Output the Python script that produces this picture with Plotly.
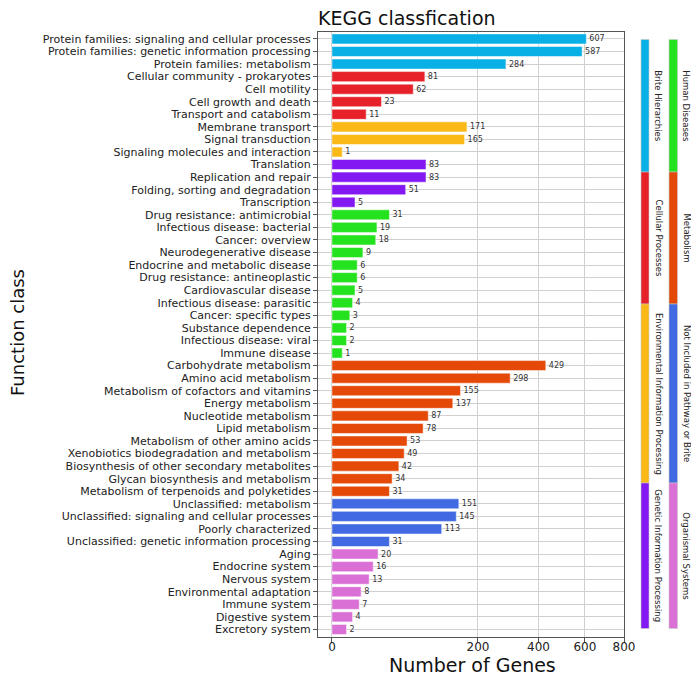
import numpy as np
import plotly.graph_objects as go

# KEGG level-2 functions, gene counts, and their level-1 class
functions = [
    "Protein families: signaling and cellular processes",
    "Protein families: genetic information processing",
    "Protein families: metabolism",
    "Cellular community - prokaryotes",
    "Cell motility",
    "Cell growth and death",
    "Transport and catabolism",
    "Membrane transport",
    "Signal transduction",
    "Signaling molecules and interaction",
    "Translation",
    "Replication and repair",
    "Folding, sorting and degradation",
    "Transcription",
    "Drug resistance: antimicrobial",
    "Infectious disease: bacterial",
    "Cancer: overview",
    "Neurodegenerative disease",
    "Endocrine and metabolic disease",
    "Drug resistance: antineoplastic",
    "Cardiovascular disease",
    "Infectious disease: parasitic",
    "Cancer: specific types",
    "Substance dependence",
    "Infectious disease: viral",
    "Immune disease",
    "Carbohydrate metabolism",
    "Amino acid metabolism",
    "Metabolism of cofactors and vitamins",
    "Energy metabolism",
    "Nucleotide metabolism",
    "Lipid metabolism",
    "Metabolism of other amino acids",
    "Xenobiotics biodegradation and metabolism",
    "Biosynthesis of other secondary metabolites",
    "Glycan biosynthesis and metabolism",
    "Metabolism of terpenoids and polyketides",
    "Unclassified: metabolism",
    "Unclassified: signaling and cellular processes",
    "Poorly characterized",
    "Unclassified: genetic information processing",
    "Aging",
    "Endocrine system",
    "Nervous system",
    "Environmental adaptation",
    "Immune system",
    "Digestive system",
    "Excretory system",
]

gene_counts = [
    607, 587, 284,
    81, 62, 23, 11,
    171, 165, 1,
    83, 83, 51, 5,
    31, 19, 18, 9, 6, 6, 5, 4, 3, 2, 2, 1,
    429, 298, 155, 137, 87, 78, 53, 49, 42, 34, 31,
    151, 145, 113, 31,
    20, 16, 13, 8, 7, 4, 2,
]

level1 = (
    ["Brite Hierarchies"] * 3
    + ["Cellular Processes"] * 4
    + ["Environmental Information Processing"] * 3
    + ["Genetic Information Processing"] * 4
    + ["Human Diseases"] * 12
    + ["Metabolism"] * 11
    + ["Not Included in Pathway or Brite"] * 4
    + ["Organismal Systems"] * 7
)

legend_col1 = ["Brite Hierarchies", "Cellular Processes",
               "Environmental Information Processing", "Genetic Information Processing"]
legend_col2 = ["Human Diseases", "Metabolism",
               "Not Included in Pathway or Brite", "Organismal Systems"]

x_ticks = [0, 200, 400, 600, 800]

colors = {
    "Brite Hierarchies": "#08b0e6",
    "Cellular Processes": "#e6212a",
    "Environmental Information Processing": "#fbb918",
    "Genetic Information Processing": "#8418f2",
    "Human Diseases": "#24e21e",
    "Metabolism": "#e44908",
    "Not Included in Pathway or Brite": "#4169e1",
    "Organismal Systems": "#da70d6",
}

FONT = "DejaVu Sans"
OFF = 8  # page body margin
W, H = 699 - OFF, 677 - OFF
# plot area in (screen) pixels
L, R, T, B = 318, 624, 32, 637


def px_x(p):
    return (p - L) / (R - L)


def px_y(p):
    return (B - p) / (B - T)


fig = go.Figure()
fig.add_trace(go.Bar(
    y=functions,
    x=np.sqrt(gene_counts),
    orientation="h",
    width=0.8,
    marker=dict(color=[colors[g] for g in level1], line=dict(color="white", width=0.5)),
    text=gene_counts,
    textposition="outside",
    textfont=dict(family=FONT, size=8, color="#333333"),
    constraintext="none",
    cliponaxis=False,
    customdata=gene_counts,
    hovertemplate="<b>%{y}</b><br>Genes: %{customdata}<extra></extra>",
    showlegend=False,
))

# legend strips on the right
strip_edges = [39.5, 172, 304, 483, 628.5]
for col, (x0, x1, xt) in zip([legend_col1, legend_col2], [(641, 649, 658.5), (669, 677.5, 686.5)]):
    for i, name in enumerate(col):
        fig.add_shape(type="rect", xref="paper", yref="paper",
                      x0=px_x(x0), x1=px_x(x1),
                      y0=px_y(strip_edges[i + 1]), y1=px_y(strip_edges[i]),
                      fillcolor=colors[name], line=dict(color="#c8c8c8", width=0.6))
        fig.add_annotation(xref="paper", yref="paper",
                           x=px_x(xt), y=px_y((strip_edges[i] + strip_edges[i + 1]) / 2),
                           xanchor="center", yanchor="middle",
                           text=name, textangle=90, showarrow=False,
                           font=dict(family=FONT, size=8.5, color="#222222"))

# axis titles
fig.add_annotation(xref="paper", yref="paper", x=px_x(472), y=px_y(664.5),
                   text="Number of Genes", showarrow=False,
                   xanchor="center", yanchor="middle",
                   font=dict(family=FONT, size=19, color="#111111"))
fig.add_annotation(xref="paper", yref="paper", x=px_x(17), y=px_y(333),
                   text="Function class", showarrow=False, textangle=-90,
                   xanchor="center", yanchor="middle",
                   font=dict(family=FONT, size=18, color="#111111"))

fig.update_layout(
    width=W, height=H,
    margin=dict(l=L - OFF, r=W - (R - OFF), t=T - OFF, b=H - (B - OFF), autoexpand=False),
    paper_bgcolor="white", plot_bgcolor="white",
    font=dict(family=FONT, color="#222222"),
    title=dict(text="KEGG classfication", x=px_x(L), xref="paper", xanchor="left",
               y=1 - (18 - OFF) / H, yanchor="middle",
               font=dict(family=FONT, size=19, color="#111111")),
    bargap=0.2,
)
fig.update_xaxes(
    automargin=False,
    range=[-1.35, np.sqrt(800)],
    tickvals=np.sqrt(x_ticks), ticktext=[str(t) for t in x_ticks],
    tickfont=dict(size=12, color="#222222"),
    ticklabelstandoff=-5,
    showgrid=True, gridcolor="#d0d0d0", gridwidth=1, zeroline=False,
    showline=True, linecolor="#555555", linewidth=1, mirror=True,
    ticks="outside", ticklen=4, tickcolor="#555555",
)
fig.update_yaxes(
    automargin=False,
    type="category",
    tickmode="array", tickvals=functions,
    range=[len(functions) - 0.4, -0.55],
    tickfont=dict(size=11, color="#222222"),
    showgrid=True, gridcolor="#d0d0d0", gridwidth=1,
    showline=True, linecolor="#555555", linewidth=1, mirror=True,
    ticks="outside", ticklen=4, tickcolor="#555555",
)

fig.write_html("out.html")
